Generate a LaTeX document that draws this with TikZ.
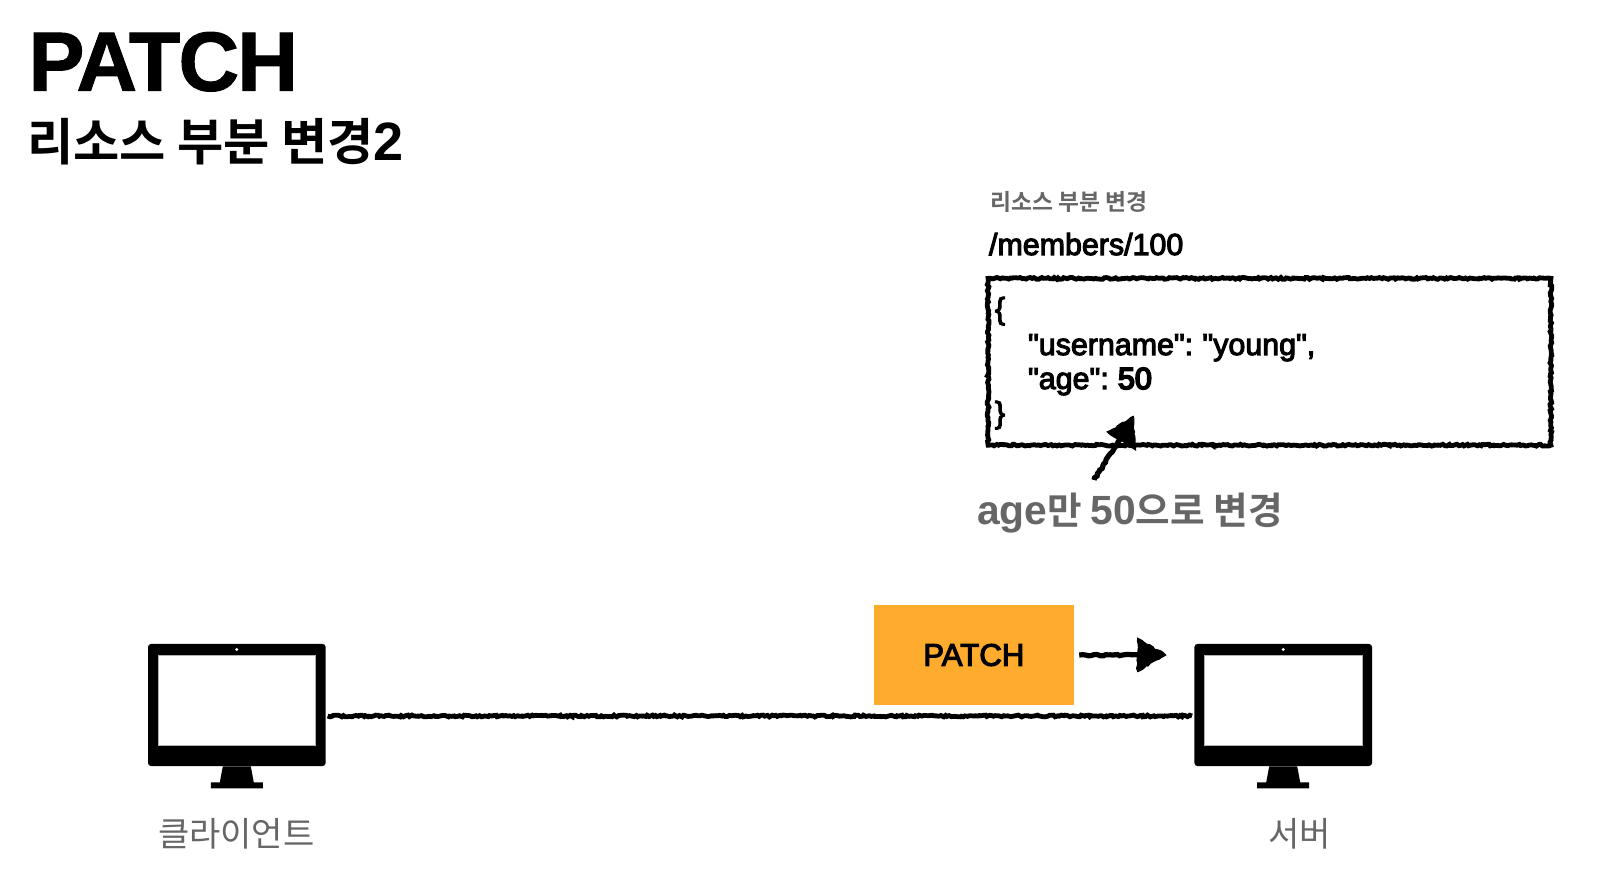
\documentclass[tikz,border=0pt]{standalone}
\usepackage{fontspec}
\usetikzlibrary{decorations.pathmorphing,arrows.meta,calc}
\setmainfont{Liberation Sans}
\newfontfamily\krb{Noto Sans CJK KR Bold}
\newfontfamily\krr{Noto Sans CJK KR}
\newfontfamily\lbold[FakeBold=3.5]{Liberation Sans}
\newfontfamily\lmed[FakeBold=6]{Liberation Sans}
\newfontfamily\lheavy{Liberation Sans Bold}
\newfontfamily\ltitle[FakeBold=1.2,LetterSpace=-2.2]{Liberation Sans Bold}
\newcommand{\fsz}[1]{\fontsize{#1}{#1}\selectfont}
\definecolor{greytxt}{HTML}{666666}
\definecolor{boxorange}{HTML}{FFAB2E}
\tikzset{
  txt/.style={inner sep=0pt,outer sep=0pt,anchor=base west},
  rough/.style={decorate,decoration={random steps,segment length=1pt,amplitude=.45pt}},
  wire/.style={rough,draw=black,line width=2.4pt},
  monbody/.style={fill=black,rounded corners=1.5pt,inner sep=0pt,minimum width=88.8pt,minimum height=61pt},
  monscreen/.style={fill=white,draw=gray!60,line width=.2pt,inner sep=0pt,minimum width=78.6pt,minimum height=45pt},
  shaft/.style={line width=2.6pt,draw=black,decorate,decoration={random steps,segment length=1.2pt,amplitude=.4pt}},
  head/.style={fill=black,draw=black,line width=1pt,decorate,decoration={random steps,segment length=1.5pt,amplitude=.5pt}},
}
\newcommand{\monitor}[2]{%
  \node[monbody] (#1) at (#2,705) {};
  \node[monscreen] (#1screen) at (#2,700.3) {};
  \fill[black] ($(#1.south)+(-14,0)$) -- ($(#1.south)+(14,0)$) -- ($(#1.south)+(17,16)$) -- ($(#1.south)+(26,16)$) -- ($(#1.south)+(26,22)$) -- ($(#1.south)+(-26,22)$) -- ($(#1.south)+(-26,16)$) -- ($(#1.south)+(-17,16)$) -- cycle;
  \fill[white] (#2,649.5) circle (1.6);
}
\begin{document}
\begin{tikzpicture}[x=0.5pt,y=-0.5pt]
\pgfmathsetseed{7}
\useasboundingbox[fill=white] (0,0) rectangle (1600,886);
% titles
\node[txt] (title) at (28.5,90.7) {\ltitle\fsz{42}PATCH};
\node[txt] (subtitle) at (27,161) {\krb\fsz{25.15}리소스 부분 변경{\lheavy\fsz{27}2}};
% json area
\node[txt,text=greytxt] (small) at (990.5,211) {\krb\fsz{11.4}리소스 부분 변경};
\node[txt] (path) at (989,255) {\lbold\fsz{15.2}/members/100};
\node[draw=none,inner sep=0pt,minimum width=281pt,minimum height=83pt] (json) at (1269.5,361.8) {};
\draw[wire] (json.north west) -- (json.north east) -- (json.south east) -- (json.south west) -- cycle;
\node[txt] (l1) at (995,319) {\lbold\fsz{15.2}\{};
\node[txt] (l2) at (1028,355) {\lbold\fsz{15.2}"username":\kern-1pt{} "young",};
\node[txt] (l3) at (1028,389) {\lbold\fsz{15.2}"age":\kern-1pt{} {\lmed 50}};
\node[txt] (l4) at (995,423) {\lbold\fsz{15.2}\}};
% age arrow
\node[txt,text=greytxt] (agenote) at (977,525) {{\lheavy\fsz{20.4}age}\krb\fsz{18.8}만 {\lheavy\fsz{20.4}50}으로 변경};
\coordinate (agetip) at (1133,417);
\coordinate (agefrom) at (1094,480);
\draw[shaft] (agefrom) -- (1123,434);
\draw[head] (agetip) -- (1108,432) -- (1135,449) -- cycle;
% monitors
\monitor{client}{236.8}
\monitor{server}{1283.2}
\node[txt,text=greytxt] (clientlabel) at (158,846) {\krr\fsz{17}클라이언트};
\node[txt,text=greytxt] (serverlabel) at (1268,846) {\krr\fsz{17}서버};
% orange
\node[fill=boxorange,inner sep=0pt,minimum width=100pt,minimum height=50pt] (patch) at (973.8,655) {\raisebox{-1.8pt}{\lbold\fsz{15.6}PATCH}};
% wire
\draw[wire] ([xshift=0.8pt,yshift=-5.5pt]client.east) -- ([xshift=-1pt,yshift=-5.5pt]server.west);
% patch arrow
\coordinate (patchtip) at (1165,655);
\draw[shaft] ([xshift=2.5pt]patch.east) -- (1140,655);
\draw[head] (patchtip) -- (1138,639) -- (1138,671) -- cycle;
\end{tikzpicture}
\end{document}
